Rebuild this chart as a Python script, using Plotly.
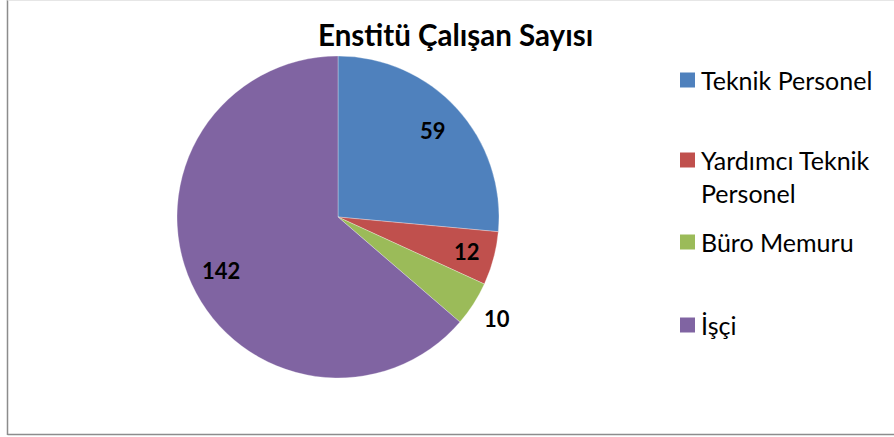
import math
import plotly.graph_objects as go

categories = ["Teknik Personel", "Yardımcı Teknik Personel", "Büro Memuru", "İşçi"]
legend_labels = ["Teknik Personel", "Yardımcı Teknik<br>Personel", "Büro Memuru", "İşçi"]
values = [59, 12, 10, 142]
colors = ["#4F81BD", "#C0504D", "#9BBB59", "#8064A2"]
title = "Enstitü Çalışan Sayısı"

# style / placement (not data)
label_radius = [0.80, 0.83, 1.17, 0.80]
W, H = 894, 437
FONT = "Lato, Carlito, Calibri, sans-serif"
cx, cy, r = 338, 217, 161

fig = go.Figure(go.Pie(
    labels=categories,
    values=values,
    sort=False,
    direction="clockwise",
    rotation=0,
    marker=dict(colors=colors, line=dict(color="rgba(255,255,255,0.5)", width=0.6)),
    textinfo="none",
    showlegend=False,
    hoverinfo="label+value",
    domain=dict(x=[(cx - r) / W, (cx + r) / W], y=[(H - cy - r) / H, (H - cy + r) / H]),
))

shapes = [
    dict(type="line", xref="paper", yref="paper", x0=7.5 / W, x1=7.5 / W, y0=(H - 435) / H, y1=1,
         line=dict(color="#8C8C8C", width=1.5)),
    dict(type="line", xref="paper", yref="paper", x0=7.5 / W, x1=1, y0=(H - 434.5) / H, y1=(H - 434.5) / H,
         line=dict(color="#8C8C8C", width=1.5)),
    dict(type="line", xref="paper", yref="paper", x0=7.5 / W, x1=1, y0=(H - 0.5) / H, y1=(H - 0.5) / H,
         line=dict(color="#E6E6E6", width=1)),
]
annotations = [dict(text=f"<b>{title}</b>", x=455 / W, y=(H - 35) / H, xref="paper", yref="paper",
                    showarrow=False, xanchor="center", yanchor="middle",
                    font=dict(family=FONT, size=29.5, color="black"))]

# data labels, placed at mid-angle of each slice (clockwise from 12 o'clock)
total = sum(values)
cum = 0
for v, k in zip(values, label_radius):
    mid = (cum + v / 2) / total * 2 * math.pi
    cum += v
    px = cx + k * r * math.sin(mid)
    py = cy - k * r * math.cos(mid)
    annotations.append(dict(text=f"<b>{v}</b>", x=px / W, y=(H - py) / H, xref="paper", yref="paper",
                            showarrow=False, xanchor="center", yanchor="middle",
                            font=dict(family=FONT, size=22, color="black")))

# legend (drawn manually)
row_y = [80, 160, 242, 325]
for lab, col, yy in zip(legend_labels, colors, row_y):
    shapes.append(dict(type="rect", xref="paper", yref="paper",
                       x0=680 / W, x1=695 / W, y0=(H - yy - 7.5) / H, y1=(H - yy + 7.5) / H,
                       fillcolor=col, line=dict(width=0)))
    annotations.append(dict(text=lab, x=699 / W, y=(H - yy + 17) / H, xref="paper", yref="paper",
                            showarrow=False, xanchor="left", yanchor="top", align="left",
                            font=dict(family=FONT, size=25, color="black")))

fig.update_layout(
    width=W, height=H,
    margin=dict(l=0, r=0, t=0, b=0),
    paper_bgcolor="white", plot_bgcolor="white",
    shapes=shapes, annotations=annotations,
)

fig.write_html("out.html", config={"displayModeBar": False},
               post_script="document.body.style.margin='0';document.body.style.overflow='hidden';")
